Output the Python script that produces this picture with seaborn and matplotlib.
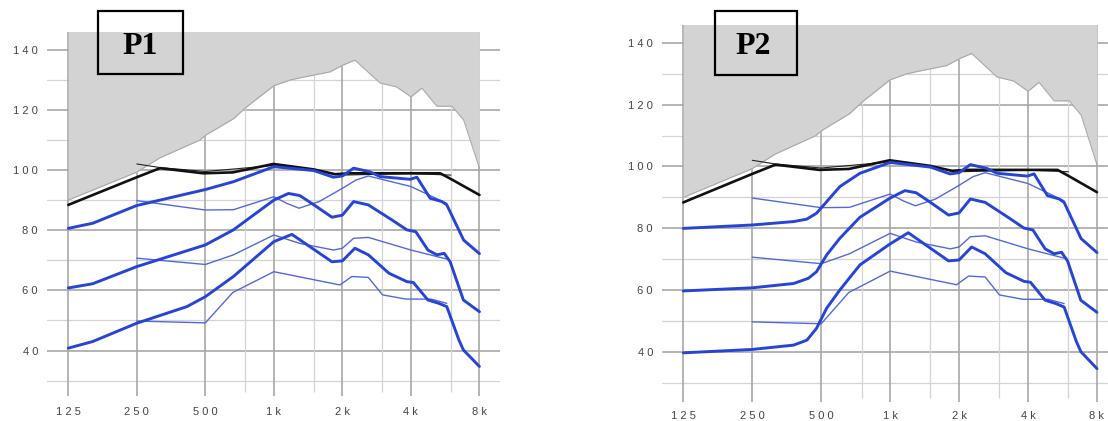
import matplotlib
matplotlib.use("Agg")
import seaborn as sns
from matplotlib import pyplot as plt
from matplotlib.patches import Rectangle

# grey area: upper limit curve (same in both panels)
ucl_freq = [125, 250, 315, 475, 500, 664, 760, 1000, 1180, 1300, 1765, 2020,
            2270, 2930, 3460, 4000, 4470, 5200, 6060, 6820, 8000]
ucl_db = [90.0, 99.3, 104.0, 110.0, 111.5, 117.0, 121.0, 128.0, 129.9, 130.6,
          132.6, 134.9, 136.5, 128.9, 127.6, 124.3, 127.2, 121.2, 121.2, 116.6, 100.6]

# black target curves
target_freq = [125, 250, 316, 490, 660, 995, 1495, 1855, 2160, 5380, 5930, 8000]
target_db = [88.4, 97.6, 100.6, 98.9, 99.2, 102.0, 100.2, 98.6, 98.9, 98.9, 97.2, 91.7]
target2_freq = [250, 316, 500, 1000, 1500, 2000, 4000, 6000]
target2_db = [102.0, 100.8, 99.5, 101.5, 100.0, 98.3, 98.8, 98.3]

# thin blue curves (same in both panels)
thin_hi_freq = [250, 500, 664, 1000, 1140, 1290, 1580, 2000, 2300, 2600, 4000, 5750]
thin_hi_db = [89.8, 86.7, 86.8, 91.1, 88.9, 87.3, 89.5, 93.9, 96.7, 98.0, 94.5, 88.9]
thin_mid_freq = [250, 500, 664, 1000, 1300, 1830, 2000, 2240, 2600, 4000, 5750]
thin_mid_db = [70.7, 68.6, 71.8, 78.4, 75.6, 73.4, 74.0, 77.3, 77.6, 73.4, 70.4]
thin_lo_freq = [250, 500, 660, 1000, 1950, 2200, 2600, 3000, 3800, 4900, 5750]
thin_lo_db = [49.8, 49.2, 59.3, 66.2, 61.8, 64.6, 64.3, 58.5, 57.1, 57.1, 55.7]

# thick blue curves, P1
p1_hi_freq = [125, 160, 250, 500, 664, 1000, 1500, 1825, 2000, 2240, 2640, 2930,
              3970, 4250, 4860, 5470, 5750, 6820, 8000]
p1_hi_db = [80.6, 82.3, 88.2, 93.5, 96.1, 101.1, 99.8, 97.6, 98.0, 100.6, 99.4,
            97.8, 96.9, 97.6, 90.6, 89.5, 88.4, 76.7, 72.2]
p1_mid_freq = [125, 160, 250, 500, 664, 1000, 1160, 1300, 1500, 1800, 2000, 2240,
               2600, 3300, 3840, 4200, 4750, 5200, 5600, 5950, 6800, 8000]
p1_mid_db = [60.8, 62.2, 67.9, 75.1, 80.1, 90.0, 92.2, 91.5, 88.4, 84.3, 85.0,
             89.5, 88.4, 83.4, 80.1, 79.5, 73.4, 71.8, 72.3, 69.5, 56.8, 52.9]
p1_lo_freq = [125, 160, 250, 415, 500, 664, 1000, 1200, 1800, 2000, 2270, 2600,
              3200, 3840, 4100, 4750, 5300, 5750, 6500, 6800, 8000]
p1_lo_db = [40.8, 43.0, 49.1, 54.6, 57.9, 64.6, 76.2, 78.6, 69.5, 69.8, 74.0,
            71.8, 65.7, 62.9, 62.6, 56.8, 55.7, 54.6, 43.5, 40.2, 34.7]

# thick blue curves, P2 up to 1 kHz (above that they follow P1)
p2_hi_freq = [125, 250, 379, 433, 477, 528, 603, 738, 1000]
p2_hi_db = [80.0, 81.1, 82.2, 83.0, 84.9, 88.6, 93.5, 97.8, 101.3]
p2_mid_freq = [125, 250, 379, 440, 477, 528, 603, 738, 1000]
p2_mid_db = [59.8, 60.8, 62.2, 63.9, 66.0, 71.4, 76.8, 83.6, 89.8]
p2_lo_freq = [125, 250, 379, 433, 477, 528, 603, 738, 1000]
p2_lo_db = [39.8, 40.9, 42.3, 43.9, 47.7, 54.2, 60.1, 68.2, 75.0]

xtick_freq = [125, 250, 500, 1000, 2000, 4000, 8000]
xtick_labels = ["1 2 5", "2 5 0", "5 0 0", "1 k", "2 k", "4 k", "8 k"]
ytick_db = [40, 60, 80, 100, 120, 140]
ytick_labels = ["4 0", "6 0", "8 0", "1 0 0", "1 2 0", "1 4 0"]
minor_freq = [750, 1500, 3000, 6000]
panel_names = ["P1", "P2"]


def join(low_f, low_d, full_f, full_d):
    f = list(low_f) + [x for x in full_f if x > low_f[-1]]
    d = list(low_d) + [y for x, y in zip(full_f, full_d) if x > low_f[-1]]
    return f, d


p2_curves = [join(p2_hi_freq, p2_hi_db, p1_hi_freq, p1_hi_db),
             join(p2_mid_freq, p2_mid_db, p1_mid_freq, p1_mid_db),
             join(p2_lo_freq, p2_lo_db, p1_lo_freq, p1_lo_db)]
p1_curves = [(p1_hi_freq, p1_hi_db), (p1_mid_freq, p1_mid_db), (p1_lo_freq, p1_lo_db)]

sns.set_theme(style="white")
plt.rcParams["font.family"] = ["Liberation Sans", "DejaVu Sans"]

W, H = 1108, 421
fig = plt.figure(figsize=(W / 100, H / 100), dpi=100)

# pixel layout of each panel: left, right, top, bottom, (db at top, db at bottom), oct range
layouts = [
    dict(px=(47, 500, 32, 399), ylim=(23.9, 145.85), xoct=(-0.311, 6.30),
         tick_lo=24.9, minor_lo=26.2, box=(98, 11, 183, 74), txt=(140, 46)),
    dict(px=(662, 1108, 25, 403), ylim=(23.6, 145.7), xoct=(-0.309, 6.16),
         tick_lo=24.0, minor_lo=25.2, box=(715, 11, 797, 75), txt=(753, 46)),
]

thick_blue = "#2744d4"
thin_blue = "#5468dc"
major_grid = "#a8a8a8"
minor_grid = "#d4d4d4"

for i, lay in enumerate(layouts):
    l, r, t, b = lay["px"]
    ax = fig.add_axes([l / W, 1 - b / H, (r - l) / W, (b - t) / H])
    ax.set_xscale("log", base=2)
    ax.set_xlim(125 * 2 ** lay["xoct"][0], 125 * 2 ** lay["xoct"][1])
    ax.set_ylim(*lay["ylim"])
    for s in ax.spines.values():
        s.set_visible(False)

    # grid
    for lvl in range(30, 150, 10):
        major = lvl % 20 == 0
        ax.axhline(lvl, color=major_grid if major else minor_grid,
                   lw=1.2 if major else 0.9, zorder=1)
    ax.vlines(xtick_freq, lay["tick_lo"], 146, color=major_grid, lw=1.2, zorder=1)
    ax.vlines(minor_freq, lay["minor_lo"], 146, color=minor_grid, lw=0.9, zorder=1)

    # grey area above the limit curve
    ax.fill_between(ucl_freq, ucl_db, 146, color="#d3d3d3", lw=0, zorder=2)
    sns.lineplot(x=ucl_freq, y=ucl_db, ax=ax, color="#a9a9a9", linewidth=0.8,
                 sort=False, estimator=None, legend=False, zorder=3)

    # thin blue
    for f, d in [(thin_hi_freq, thin_hi_db), (thin_mid_freq, thin_mid_db),
                 (thin_lo_freq, thin_lo_db)]:
        sns.lineplot(x=f, y=d, ax=ax, color=thin_blue, linewidth=1.0,
                     sort=False, estimator=None, legend=False, zorder=4)

    # black target
    sns.lineplot(x=target2_freq, y=target2_db, ax=ax, color="#222222", linewidth=0.8,
                 sort=False, estimator=None, legend=False, zorder=5)
    sns.lineplot(x=target_freq, y=target_db, ax=ax, color="#111111", linewidth=1.9,
                 sort=False, estimator=None, legend=False, zorder=5)

    # thick blue
    curves = p1_curves if i == 0 else p2_curves
    for f, d in curves:
        sns.lineplot(x=f, y=d, ax=ax, color=thick_blue, linewidth=2.1,
                     sort=False, estimator=None, legend=False, zorder=6,
                     solid_joinstyle="round", solid_capstyle="round")

    ax.set_xticks(xtick_freq)
    ax.set_xticklabels(xtick_labels)
    ax.minorticks_off()
    ax.set_yticks(ytick_db)
    ax.set_yticklabels(ytick_labels)
    ax.tick_params(axis="x", length=0, pad=5.5, labelsize=8, labelcolor="#444444")
    ax.tick_params(axis="y", length=0, pad=6.5, labelsize=8, labelcolor="#444444")
    ax.set_xlabel("")
    ax.set_ylabel("")
    ax.grid(False)

    bx0, by0, bx1, by1 = lay["box"]
    fig.add_artist(Rectangle((bx0 / W, 1 - by1 / H), (bx1 - bx0) / W, (by1 - by0) / H,
                             transform=fig.transFigure, fill=False, ec="black", lw=1.6,
                             zorder=10))
    fig.text(lay["txt"][0] / W, 1 - lay["txt"][1] / H, panel_names[i],
             family="Liberation Serif", weight="bold", fontsize=23,
             ha="center", va="center", color="black", zorder=11)

fig.savefig("out.png", dpi=100)
